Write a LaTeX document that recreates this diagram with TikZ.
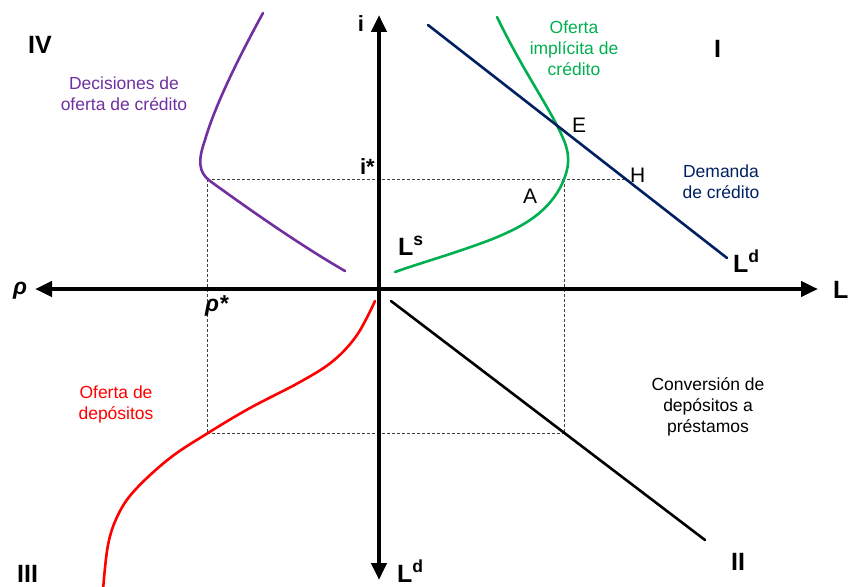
\documentclass[tikz,border=0pt]{standalone}
\usepackage{fontspec}
\setmainfont{Liberation Sans}
\usetikzlibrary{arrows.meta}
\definecolor{cpurple}{HTML}{7030A0}
\definecolor{cgreen}{HTML}{00B050}
\definecolor{cnavy}{HTML}{002060}
\definecolor{cred}{HTML}{FF0000}
\begin{document}
\begin{tikzpicture}[x=1pt,y=-1pt,
  every node/.style={inner sep=0pt},
  axis/.style={line width=4.5pt,{Triangle[length=17pt,width=15pt]}-{Triangle[length=17pt,width=15pt]}},
  curve/.style={line width=2.6pt, line cap=round},
  guide/.style={line width=0.8pt, dash pattern=on 3pt off 2pt, black!75},
  lbl/.style={font=\fontsize{17.5}{21}\selectfont, align=center},
  big/.style={font=\fontsize{25}{25}\selectfont\bfseries},
  axl/.style={font=\fontsize{22}{22}\selectfont\bfseries},
  rho/.style={font=\fontsize{23}{23}\selectfont\bfseries\itshape},
  ptl/.style={font=\fontsize{21}{21}\selectfont},
]
\useasboundingbox (0,0) rectangle (850,586);

% key coordinates
\coordinate (O) at (379,289);
\coordinate (xl) at (35,289);
\coordinate (xr) at (818,289);
\coordinate (yt) at (379,15);
\coordinate (yb) at (379,580);
\coordinate (P) at (207,179);
\coordinate (Apt) at (564,179);
\coordinate (Hpt) at (625,179);
\coordinate (R) at (207,433);
\coordinate (Q) at (564,433);
\coordinate (d1) at (428,25);
\coordinate (d2) at (727,258);
\coordinate (c1) at (391,301);
\coordinate (c2) at (705,540);

% dashed guides
\draw[guide] (P) -- (Hpt);
\draw[guide] (P) -- (R);
\draw[guide] (R) -- (Q);
\draw[guide] (Apt) -- (Q);

% curves
\draw[curve, cpurple] (263,13) .. controls (240,55) and (215,105) .. (205,140)
  .. controls (198,160) and (198,172) .. (210,181)
  .. controls (250,210) and (300,245) .. (345,271);
\draw[curve, cgreen] (497,17) .. controls (525,75) and (553,112) .. (565,143)
  .. controls (571,160) and (568,172) .. (560,188)
  .. controls (545,215) and (520,228) .. (490,240)
  .. controls (450,255) and (420,263) .. (395,272);
\draw[curve, cred] plot[smooth, tension=0.6] coordinates {(375,301) (357,335) (333,361) (300,382) (250,408) (208,433) (170,458) (135,490) (118,515) (108,545) (103,590)};
\draw[curve, cnavy] (d1) -- (d2);
\draw[curve, black] (c1) -- (c2);

% axes
\draw[axis] (xl) -- (xr);
\draw[axis] (yb) -- (yt);

% axis labels
\node[axl, anchor=base] (li) at (361,32) {i};
\node[axl, anchor=base east] (listar) at (375,174) {i*};
\node[rho, anchor=base] (lrho) at (20,294) {ρ};
\node[rho, anchor=base west] (lrhostar) at (205,311) {ρ*};
\node[big, anchor=base west] (lL) at (833,298) {L};
\node[big, anchor=base west] (lLdb) at (397,582) {L\textsuperscript{d}};
\node[big, anchor=base west] (lLd) at (733,272) {L\textsuperscript{d}};
\node[big, anchor=base west] (lLs) at (398,255) {L\textsuperscript{s}};

% quadrant labels
\node[big, anchor=base west] (qIV) at (28,53) {IV};
\node[big, anchor=base west] (qI) at (714,58) {I};
\node[big, anchor=base west] (qII) at (731,570) {II};
\node[big, anchor=base west] (qIII) at (17,582) {III};

% points
\node[ptl, anchor=base west] (lE) at (572,132) {E};
\node[ptl, anchor=base west] (lH) at (630,182) {H};
\node[ptl, anchor=base west] (lA) at (523,203) {A};

% descriptive labels
\node[lbl, text=cpurple] (tpurple) at (124,94) {Decisiones de\\oferta de crédito};
\node[lbl, text=cgreen] (tgreen) at (574,48) {Oferta\\implícita de\\crédito};
\node[lbl, text=cnavy] (tnavy) at (721,182) {Demanda\\de crédito};
\node[lbl, text=cred] (tred) at (116,404) {Oferta de\\depósitos};
\node[lbl, text=black] (tblack) at (708,407) {Conversión de\\depósitos a\\préstamos};
\end{tikzpicture}
\end{document}
